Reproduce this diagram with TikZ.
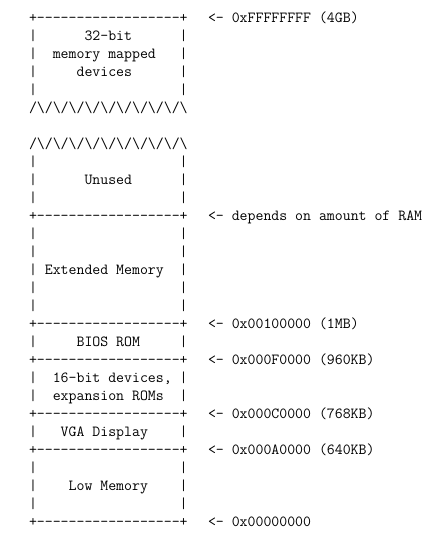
\documentclass[tikz,border=0pt]{standalone}
\usepackage{fontspec}
\setmonofont{Latin Modern Mono}
\newcommand\wavepair{/\textbackslash}
\begin{document}
\begin{tikzpicture}[x=1pt,y=-1pt,
  row/.style={anchor=mid west, inner sep=0pt, outer sep=0pt,
    font=\ttfamily\fontsize{15.4}{18}\selectfont, text=black},
  addr/.style={row}]
\useasboundingbox (0,0) rectangle (438,551);
% memory map column
\node[row] (r0)  at (29,20)  {+------------------+};
\node[row] (r1)  at (29,38)  {|~~~~~~32-bit~~~~~~|};
\node[row] (r2)  at (29,56)  {|~~memory mapped~~~|};
\node[row] (r3)  at (29,74)  {|~~~~~devices~~~~~~|};
\node[row] (r4)  at (29,92)  {|~~~~~~~~~~~~~~~~~~|};
\node[row] (r5)  at (29,110) {\wavepair\wavepair\wavepair\wavepair\wavepair\wavepair\wavepair\wavepair\wavepair\wavepair};
\node[row] (r7)  at (29,146) {\wavepair\wavepair\wavepair\wavepair\wavepair\wavepair\wavepair\wavepair\wavepair\wavepair};
\node[row] (r8)  at (29,164) {|~~~~~~~~~~~~~~~~~~|};
\node[row] (r9)  at (29,182) {|~~~~~~Unused~~~~~~|};
\node[row] (r10) at (29,200) {|~~~~~~~~~~~~~~~~~~|};
\node[row] (r11) at (29,218) {+------------------+};
\node[row] (r12) at (29,236) {|~~~~~~~~~~~~~~~~~~|};
\node[row] (r13) at (29,254) {|~~~~~~~~~~~~~~~~~~|};
\node[row] (r14) at (29,272) {|~Extended Memory~~|};
\node[row] (r15) at (29,290) {|~~~~~~~~~~~~~~~~~~|};
\node[row] (r16) at (29,308) {|~~~~~~~~~~~~~~~~~~|};
\node[row] (r17) at (29,326) {+------------------+};
\node[row] (r18) at (29,344) {|~~~~~BIOS ROM~~~~~|};
\node[row] (r19) at (29,362) {+------------------+};
\node[row] (r20) at (29,380) {|~~16-bit devices,~|};
\node[row] (r21) at (29,398) {|~~expansion ROMs~~|};
\node[row] (r22) at (29,416) {+------------------+};
\node[row] (r23) at (29,434) {|~~~VGA Display~~~~|};
\node[row] (r24) at (29,452) {+------------------+};
\node[row] (r25) at (29,470) {|~~~~~~~~~~~~~~~~~~|};
\node[row] (r26) at (29,488) {|~~~~Low Memory~~~~|};
\node[row] (r27) at (29,506) {|~~~~~~~~~~~~~~~~~~|};
\node[row] (r28) at (29,524) {+------------------+};
% address labels
\node[addr] (a0)  at (208,20)  {<- 0xFFFFFFFF (4GB)};
\node[addr] (a11) at (208,218) {<- depends on amount of RAM};
\node[addr] (a17) at (208,326) {<- 0x00100000 (1MB)};
\node[addr] (a19) at (208,362) {<- 0x000F0000 (960KB)};
\node[addr] (a22) at (208,416) {<- 0x000C0000 (768KB)};
\node[addr] (a24) at (208,452) {<- 0x000A0000 (640KB)};
\node[addr] (a28) at (208,524) {<- 0x00000000};
\end{tikzpicture}
\end{document}
